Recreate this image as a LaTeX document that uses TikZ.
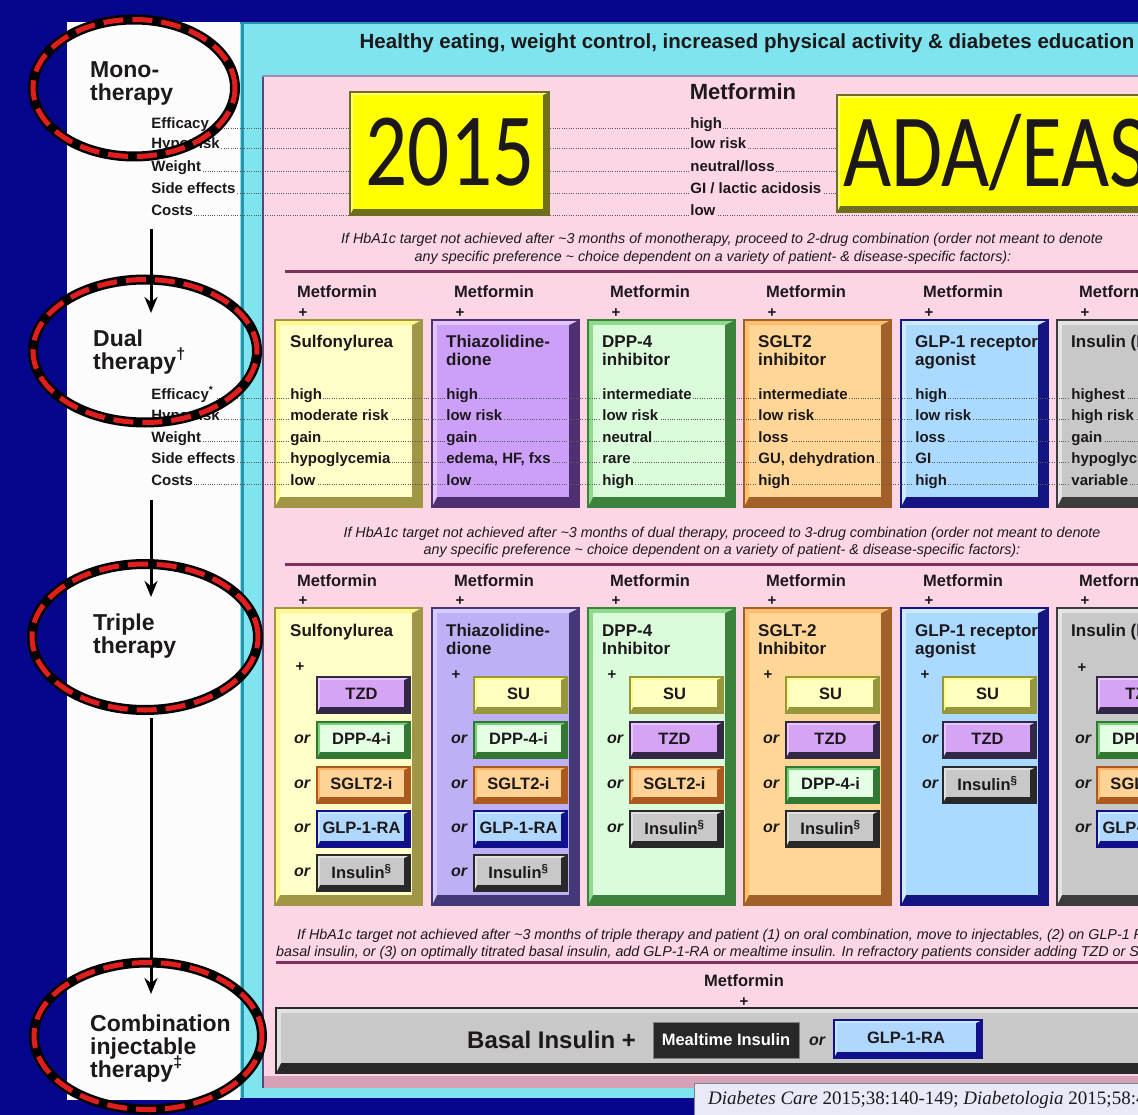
\documentclass[tikz,border=0pt]{standalone}
\usepackage{fontspec}
\usepackage{graphicx}
\setmainfont{Liberation Sans}
\newfontfamily\calfont{Carlito}
\newfontfamily\citefont{Liberation Serif}
\usetikzlibrary{shapes.geometric,arrows.meta}

\newcommand{\fsz}[1]{\fontsize{#1}{#1}\selectfont}

% palette
\definecolor{navy}{RGB}{6,6,140}
\definecolor{panelwhite}{RGB}{252,252,252}
\definecolor{cyanbg}{RGB}{128,228,238}
\definecolor{cyanedge}{RGB}{40,150,170}
\definecolor{pinkbg}{RGB}{252,214,228}
\definecolor{pinkedge}{RGB}{90,70,120}
\definecolor{pinkshade}{RGB}{214,160,182}
\definecolor{sepcol}{RGB}{128,48,92}
\definecolor{ink}{RGB}{28,24,28}
\definecolor{dotgray}{RGB}{90,90,90}
\definecolor{ringred}{RGB}{224,30,30}
\definecolor{citebg}{RGB}{232,234,248}
\definecolor{mealblack}{RGB}{40,40,40}
% column boxes
\definecolor{yelF}{RGB}{255,255,200}\definecolor{yelL}{RGB}{255,248,140}\definecolor{yelD}{RGB}{160,150,70}
\definecolor{purF}{RGB}{204,160,248}\definecolor{purL}{RGB}{226,196,255}\definecolor{purD}{RGB}{80,48,112}
\definecolor{ptF}{RGB}{190,176,244}\definecolor{ptL}{RGB}{214,204,255}\definecolor{ptD}{RGB}{70,56,120}
\definecolor{grnF}{RGB}{218,252,218}\definecolor{grnL}{RGB}{140,220,140}\definecolor{grnD}{RGB}{60,130,60}
\definecolor{orgF}{RGB}{255,214,150}\definecolor{orgL}{RGB}{255,190,110}\definecolor{orgD}{RGB}{160,96,40}
\definecolor{bluF}{RGB}{170,218,255}\definecolor{bluL}{RGB}{205,235,255}\definecolor{bluD}{RGB}{20,20,130}
\definecolor{gryF}{RGB}{200,200,200}\definecolor{gryL}{RGB}{228,228,228}\definecolor{gryD}{RGB}{60,60,60}
% small drug boxes
\definecolor{suF}{RGB}{255,255,192}\definecolor{suL}{RGB}{255,250,140}\definecolor{suD}{RGB}{150,150,60}
\definecolor{tzdF}{RGB}{214,164,244}\definecolor{tzdL}{RGB}{232,200,255}\definecolor{tzdD}{RGB}{50,40,70}
\definecolor{dppF}{RGB}{228,255,228}\definecolor{dppL}{RGB}{120,210,120}\definecolor{dppD}{RGB}{50,120,50}
\definecolor{sglF}{RGB}{255,210,150}\definecolor{sglL}{RGB}{255,180,100}\definecolor{sglD}{RGB}{170,90,30}
\definecolor{glpF}{RGB}{176,216,255}\definecolor{glpL}{RGB}{200,232,255}\definecolor{glpD}{RGB}{16,16,140}
\definecolor{insF}{RGB}{200,200,200}\definecolor{insL}{RGB}{225,225,225}\definecolor{insD}{RGB}{40,40,40}
\definecolor{ybF}{RGB}{255,255,0}\definecolor{ybL}{RGB}{255,255,120}\definecolor{ybD}{RGB}{110,110,30}

% bevelled box: x1 y1 x2 y2 fill light dark inset
\newcommand{\bevel}[8]{%
  \fill[#7] (#1,#2) rectangle (#3,#4);
  \fill[#6] (#1,#2) -- (#3,#2) -- ({#3-2*#8},{#2+#8}) -- ({#1+#8},{#2+#8}) -- ({#1+#8},{#4-2*#8}) -- (#1,#4) -- cycle;
  \fill[#5] ({#1+#8},{#2+#8}) rectangle ({#3-2*#8},{#4-2*#8});
  \draw[#7, line width=1.2pt] (#1,#2) rectangle (#3,#4);
}
% small drug box: x y kind text name
\newcommand{\pill}[5]{%
  \bevel{#1}{#2}{#1+93}{#2+36}{#3F}{#3L}{#3D}{3}%
  \node[subtxt] (#5) at ({#1+44.5},{#2+16.5}) {#4};
}
% "or" in front of a drug box: x y name
\newcommand{\orword}[3]{\node[orlbl] (#3) at (#1,{#2+17}) {or};}

\tikzset{
  every node/.style={inner sep=0pt, text=ink},
  hdr/.style={font=\bfseries\fsz{16.5}, anchor=base west},
  plus/.style={font=\bfseries\fsz{15}},
  ttl/.style={font=\bfseries\fsz{17}, anchor=base west},
  val/.style={font=\bfseries\fsz{15}, anchor=base west, inner sep=1.2pt},
  rowlbl/.style={font=\bfseries\fsz{15}, anchor=base west, inner sep=1.2pt, fill=panelwhite},
  stage/.style={font=\bfseries\fsz{23}, anchor=base west},
  note/.style={font=\itshape\fsz{14.3}, anchor=base},
  notew/.style={font=\itshape\fsz{14.3}, anchor=base west},
  orlbl/.style={font=\bfseries\itshape\fsz{16}},
  subtxt/.style={font=\bfseries\fsz{16.5}},
  dotrow/.style={draw=dotgray, line width=0.8pt, dash pattern=on 0.9pt off 1.4pt},
  sepline/.style={draw=sepcol, line width=3pt},
  ring/.style={ellipse, draw=ringred, line width=5pt, dash pattern=on 20pt off 9pt,
               preaction={draw=black, line width=10pt, solid}},
  flow/.style={draw=black, line width=3pt, -{Stealth[length=16pt,width=13pt]}},
}

\begin{document}
\begin{tikzpicture}[x=1pt,y=-1pt]
\useasboundingbox (0,0) rectangle (1138,1115);
\begin{scope}
\clip (0,0) rectangle (1138,1115);

% ---------- frame and panels ----------
\fill[navy] (0,0) rectangle (1138,1115);
\fill[panelwhite] (67,22) rectangle (240,1100);
\fill[cyanbg] (240,22) rectangle (1140,1098);
\draw[cyanedge, line width=3pt] (242,22) -- (242,1098);
\draw[cyanedge, line width=1.5pt] (240,23) -- (1140,23);
\fill[pinkbg] (262,75) rectangle (1140,1088);
\fill[pinkshade] (262,1076) rectangle (1140,1088);
\draw[pinkedge, line width=2.5pt] (263,75) -- (263,1088);
\draw[pinkedge!60, line width=1.2pt] (262,76) -- (1140,76);

\node[font=\bfseries\fsz{20.5}, anchor=base] (lifestyle) at (747,49)
  {Healthy eating, weight control, increased physical activity \& diabetes education};

% ---------- monotherapy ----------
\foreach \y in {129,149,172,194,216} \draw[dotrow] (150,{\y-1}) -- (1140,{\y-1});
\node[rowlbl] (m1) at (150,129) {Efficacy};
\node[rowlbl] (m2) at (150,149) {Hypo risk};
\node[rowlbl] (m3) at (150,172) {Weight};
\node[rowlbl] (m4) at (150,194) {Side effects};
\node[rowlbl] (m5) at (150,216) {Costs};

\node[font=\bfseries\fsz{22}, anchor=base] (metmono) at (743,100) {Metformin};
\node[val, fill=pinkbg] (mv1) at (689,129) {high};
\node[val, fill=pinkbg] (mv2) at (689,149) {low risk};
\node[val, fill=pinkbg] (mv3) at (689,172) {neutral/loss};
\node[val, fill=pinkbg] (mv4) at (689,194) {GI / lactic acidosis};
\node[val, fill=pinkbg] (mv5) at (689,216) {low};

\bevel{350}{92}{549}{215}{ybF}{ybL}{ybD}{3}
\node[font=\calfont\fsz{104}] (year) at (450,152) {\scalebox{0.8}[1]{2015}};
\bevel{837}{95}{1160}{212}{ybF}{ybL}{ybD}{3}
\node[font=\calfont\fsz{104}, anchor=west] (org) at (843,153) {\scalebox{0.8}[1]{ADA/EASD}};

% ---------- step to dual therapy ----------
\node[note] (n1a) at (722,244) {If HbA1c target not achieved after \textasciitilde3 months of monotherapy, proceed to 2-drug combination (order not meant to denote};
\node[note] (n1b) at (713,261.5) {any specific preference \textasciitilde\ choice dependent on a variety of patient- \& disease-specific factors):};
\draw[sepline] (285,272) -- (1140,272);

% ---------- dual therapy ----------
\foreach \L/\col/\n in {275/yel/1, 432/pur/2, 588/grn/3, 744/org/4, 901/blu/5, 1057/gry/6} {
  \node[hdr] (dm\n) at ({\L+22},298) {Metformin};
  \node[plus] (dp\n) at ({\L+28},313) {+};
  \bevel{\L}{320}{\L+147}{507}{\col F}{\col L}{\col D}{5}
}
\node[ttl] (d1t) at (290,348) {Sulfonylurea};
\node[ttl] (d2t) at (446,348) {Thiazolidine-};
\node[ttl] (d2u) at (446,366) {dione};
\node[ttl] (d3t) at (602,348) {DPP-4};
\node[ttl] (d3u) at (602,366) {inhibitor};
\node[ttl] (d4t) at (758,348) {SGLT2};
\node[ttl] (d4u) at (758,366) {inhibitor};
\node[ttl] (d5t) at (915,348) {GLP-1 receptor};
\node[ttl] (d5u) at (915,366) {agonist};
\node[ttl] (d6t) at (1071,348) {Insulin (basal)};

\foreach \y in {399,420,442,463,485} \draw[dotrow] (150,{\y-1}) -- (1140,{\y-1});
\node[rowlbl] (e1) at (150,399) {Efficacy\textsuperscript{*}};
\node[rowlbl] (e2) at (150,420) {Hypo risk};
\node[rowlbl] (e3) at (150,442) {Weight};
\node[rowlbl] (e4) at (150,463) {Side effects};
\node[rowlbl] (e5) at (150,485) {Costs};

\node[val, fill=yelF] (v11) at (289,399) {high};
\node[val, fill=yelF] (v12) at (289,420) {moderate risk};
\node[val, fill=yelF] (v13) at (289,442) {gain};
\node[val, fill=yelF] (v14) at (289,463) {hypoglycemia};
\node[val, fill=yelF] (v15) at (289,485) {low};
\node[val, fill=purF] (v21) at (445,399) {high};
\node[val, fill=purF] (v22) at (445,420) {low risk};
\node[val, fill=purF] (v23) at (445,442) {gain};
\node[val, fill=purF] (v24) at (445,463) {edema, HF, fxs};
\node[val, fill=purF] (v25) at (445,485) {low};
\node[val, fill=grnF] (v31) at (601,399) {intermediate};
\node[val, fill=grnF] (v32) at (601,420) {low risk};
\node[val, fill=grnF] (v33) at (601,442) {neutral};
\node[val, fill=grnF] (v34) at (601,463) {rare};
\node[val, fill=grnF] (v35) at (601,485) {high};
\node[val, fill=orgF] (v41) at (757,399) {intermediate};
\node[val, fill=orgF] (v42) at (757,420) {low risk};
\node[val, fill=orgF] (v43) at (757,442) {loss};
\node[val, fill=orgF] (v44) at (757,463) {GU, dehydration};
\node[val, fill=orgF] (v45) at (757,485) {high};
\node[val, fill=bluF] (v51) at (914,399) {high};
\node[val, fill=bluF] (v52) at (914,420) {low risk};
\node[val, fill=bluF] (v53) at (914,442) {loss};
\node[val, fill=bluF] (v54) at (914,463) {GI};
\node[val, fill=bluF] (v55) at (914,485) {high};
\node[val, fill=gryF] (v61) at (1070,399) {highest};
\node[val, fill=gryF] (v62) at (1070,420) {high risk};
\node[val, fill=gryF] (v63) at (1070,442) {gain};
\node[val, fill=gryF] (v64) at (1070,463) {hypoglycemia};
\node[val, fill=gryF] (v65) at (1070,485) {variable};

% ---------- step to triple therapy ----------
\node[note] (n2a) at (722,537) {If HbA1c target not achieved after \textasciitilde3 months of dual therapy, proceed to 3-drug combination (order not meant to denote};
\node[note] (n2b) at (722,554.5) {any specific preference \textasciitilde\ choice dependent on a variety of patient- \& disease-specific factors):};
\draw[sepline] (285,564) -- (1140,564);

% ---------- triple therapy ----------
\foreach \L/\col/\n in {275/yel/1, 432/pt/2, 588/grn/3, 744/org/4, 901/blu/5, 1057/gry/6} {
  \node[hdr] (tm\n) at ({\L+22},586) {Metformin};
  \node[plus] (tp\n) at ({\L+28},601) {+};
  \bevel{\L}{608}{\L+147}{905}{\col F}{\col L}{\col D}{5}
}
\node[ttl] (t1t) at (290,636) {Sulfonylurea};
\node[ttl] (t2t) at (446,636) {Thiazolidine-};
\node[ttl] (t2u) at (446,654) {dione};
\node[ttl] (t3t) at (602,636) {DPP-4};
\node[ttl] (t3u) at (602,654) {Inhibitor};
\node[ttl] (t4t) at (758,636) {SGLT-2};
\node[ttl] (t4u) at (758,654) {Inhibitor};
\node[ttl] (t5t) at (915,636) {GLP-1 receptor};
\node[ttl] (t5u) at (915,654) {agonist};
\node[ttl] (t6t) at (1071,636) {Insulin (basal)};

% column 1
\node[plus] (t1p) at (300,667) {+};
\pill{317}{677}{tzd}{TZD}{t1s1}
\orword{302}{722}{t1o2}\pill{317}{722}{dpp}{DPP-4-i}{t1s2}
\orword{302}{767}{t1o3}\pill{317}{767}{sgl}{SGLT2-i}{t1s3}
\orword{302}{811}{t1o4}\pill{317}{811}{glp}{GLP-1-RA}{t1s4}
\orword{302}{855}{t1o5}\pill{317}{855}{ins}{Insulin\textsuperscript{\S}}{t1s5}
% column 2
\node[plus] (t2p) at (456,675) {+};
\pill{474}{677}{su}{SU}{t2s1}
\orword{459}{722}{t2o2}\pill{474}{722}{dpp}{DPP-4-i}{t2s2}
\orword{459}{767}{t2o3}\pill{474}{767}{sgl}{SGLT2-i}{t2s3}
\orword{459}{811}{t2o4}\pill{474}{811}{glp}{GLP-1-RA}{t2s4}
\orword{459}{855}{t2o5}\pill{474}{855}{ins}{Insulin\textsuperscript{\S}}{t2s5}
% column 3
\node[plus] (t3p) at (612,675) {+};
\pill{630}{677}{su}{SU}{t3s1}
\orword{615}{722}{t3o2}\pill{630}{722}{tzd}{TZD}{t3s2}
\orword{615}{767}{t3o3}\pill{630}{767}{sgl}{SGLT2-i}{t3s3}
\orword{615}{811}{t3o4}\pill{630}{811}{ins}{Insulin\textsuperscript{\S}}{t3s4}
% column 4
\node[plus] (t4p) at (768,675) {+};
\pill{786}{677}{su}{SU}{t4s1}
\orword{771}{722}{t4o2}\pill{786}{722}{tzd}{TZD}{t4s2}
\orword{771}{767}{t4o3}\pill{786}{767}{dpp}{DPP-4-i}{t4s3}
\orword{771}{811}{t4o4}\pill{786}{811}{ins}{Insulin\textsuperscript{\S}}{t4s4}
% column 5
\node[plus] (t5p) at (925,675) {+};
\pill{943}{677}{su}{SU}{t5s1}
\orword{930}{722}{t5o2}\pill{943}{722}{tzd}{TZD}{t5s2}
\orword{930}{767}{t5o3}\pill{943}{767}{ins}{Insulin\textsuperscript{\S}}{t5s3}
% column 6
\node[plus] (t6p) at (1082,668) {+};
\pill{1097}{677}{tzd}{TZD}{t6s1}
\orword{1083}{722}{t6o2}\pill{1097}{722}{dpp}{DPP-4-i}{t6s2}
\orword{1083}{767}{t6o3}\pill{1097}{767}{sgl}{SGLT2-i}{t6s3}
\orword{1083}{811}{t6o4}\pill{1097}{811}{glp}{GLP-1-RA}{t6s4}

% ---------- step to injectables ----------
\node[notew] (n3a) at (297,939) {If HbA1c target not achieved after \textasciitilde3 months of triple therapy and patient (1) on oral combination, move to injectables, (2) on GLP-1 RA, add};
\node[notew] (n3b) at (276,956.5) {basal insulin, or (3) on optimally titrated basal insulin, add GLP-1-RA or mealtime insulin. In refractory patients consider adding TZD or SGLT2-i:};
\draw[sepline] (276,962) -- (1140,962);

% ---------- combination injectable therapy ----------
\node[hdr, anchor=base] (bm) at (744,986) {Metformin};
\node[plus] (bp) at (744,1002) {+};
\bevel{276}{1008}{1160}{1073}{insF}{insL}{insD}{5}
\node[font=\bfseries\fsz{24}, anchor=base west] (basal) at (467,1048) {Basal Insulin +};
\fill[mealblack] (653,1022) rectangle (799,1058);
\draw[gray, line width=1pt] (653,1022) rectangle (799,1058);
\node[subtxt, text=white] (meal) at (726,1040) {Mealtime Insulin};
\node[orlbl] (bor) at (817,1041) {or};
\bevel{834}{1020}{982}{1058}{glpF}{glpL}{glpD}{3}
\node[subtxt] (bglp) at (906,1038) {GLP-1-RA};

% ---------- reference ----------
\fill[citebg] (694,1083) rectangle (1140,1120);
\draw[gray, line width=0.8pt] (694,1083) rectangle (1140,1120);
\node[font=\citefont\fsz{19}, anchor=base west] (cite) at (708,1104)
  {\textit{Diabetes Care} 2015;38:140-149; \textit{Diabetologia} 2015;58:429-442};

% ---------- stage labels, arrows and rings ----------
\node[stage] (s1a) at (90,78) {Mono-};
\node[stage] (s1b) at (90,101) {therapy};
\node[stage] (s2a) at (93,346) {Dual};
\node[stage] (s2b) at (93,369) {therapy\textsuperscript{\dag}};
\node[stage] (s3a) at (93,630) {Triple};
\node[stage] (s3b) at (93,653) {therapy};
\node[stage] (s4a) at (90,1031) {Combination};
\node[stage] (s4b) at (90,1054) {injectable};
\node[stage] (s4c) at (90,1077) {therapy\textsuperscript{\ddag}};

\coordinate (f1a) at (151,229); \coordinate (f1b) at (151,313);
\coordinate (f2a) at (151,500); \coordinate (f2b) at (151,597);
\coordinate (f3a) at (151,718); \coordinate (f3b) at (151,994);
\draw[flow] (f1a) -- (f1b);
\draw[flow] (f2a) -- (f2b);
\draw[flow] (f3a) -- (f3b);

\node[ring, minimum width=202pt, minimum height=137pt] (r1) at (134,88) {};
\node[ring, minimum width=224pt, minimum height=143pt] (r2) at (145,351) {};
\node[ring, minimum width=226pt, minimum height=146pt] (r3) at (145,637) {};
\node[ring, minimum width=228pt, minimum height=147pt] (r4) at (148,1036) {};
\end{scope}
\end{tikzpicture}
\end{document}
